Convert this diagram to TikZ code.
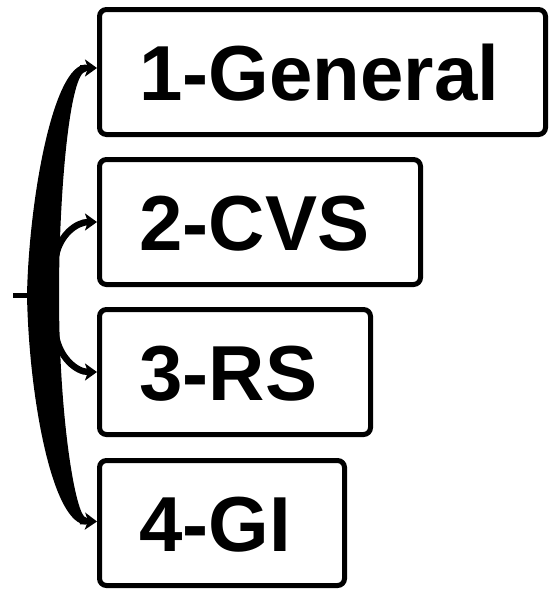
\documentclass[tikz,border=0pt]{standalone}
\usepackage{fontspec}
\setmainfont{Liberation Sans}
\usetikzlibrary{arrows.meta,calc}
\begin{document}
\begin{tikzpicture}[x=1pt,y=1pt,
  box/.style={draw, line width=5pt, rounded corners=7pt, anchor=north west,
    minimum height=125pt, inner xsep=40pt, inner ysep=0pt, align=left,
    text height=56pt, text depth=0pt, font=\fontsize{78}{80}\selectfont\bfseries},
  arr/.style={line width=6.5pt, -{Stealth[length=12pt,width=17pt,inset=3pt]}},
  branch/.style={line width=6pt}]
\useasboundingbox (0,0) rectangle (552,-589);
% boxes
\node[box, text width=366pt] (b1) at (97,-7) {1-General};
\node[box, text width=241pt] (b2) at (97,-157) {2-CVS};
\node[box, text width=191pt] (b3) at (97,-307) {3-RS};
\node[box, text width=165pt] (b4) at (97,-458) {4-GI};
% brace body
\fill (86,-64.5) .. controls (53,-64.5) and (29,-200) .. (27,-295)
  .. controls (29,-400) and (53,-524.5) .. (86,-524.5) -- (86,-517.5)
  .. controls (76,-517.5) and (59,-420) .. (59,-295)
  .. controls (59,-190) and (70,-71.5) .. (86,-71.5) -- cycle;
% named points on the brace
\coordinate (root) at (13,-295);
\coordinate (stem) at (32,-295);
\coordinate (t1) at (80,-68);
\coordinate (t4) at (80,-521);
\coordinate (c2) at (56,-256);
\coordinate (c3) at (56,-336);
% connectors
\draw[line width=5pt] (root) -- (stem);
\draw[arr] (t1) -- ($(b1.west)+(0,4)$);
\draw[arr] (c2) to[out=80, in=180] (b2.west);
\draw[arr] (c3) to[out=-80, in=180] (b3.west);
\draw[arr] (t4) -- ($(b4.west)+(0,1.5)$);
\end{tikzpicture}
\end{document}
